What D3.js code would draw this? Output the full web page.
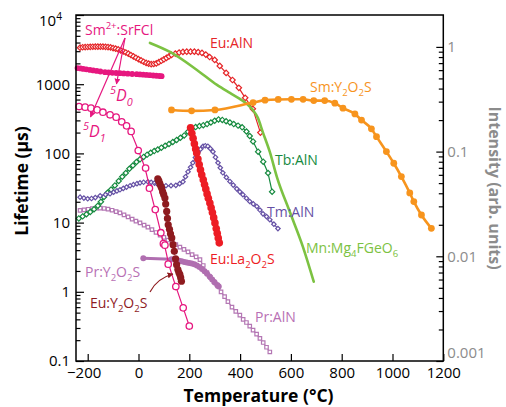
<!DOCTYPE html>
<html>
<head>
<meta charset="utf-8">
<script src="https://cdn.jsdelivr.net/npm/d3@7"></script>
<style>
  body { margin: 0; background: #fff; }
  svg { font-family: "Open Sans", sans-serif; }
</style>
</head>
<body>
<div id="chart"></div>
<script>
// ---- data (temperature in °C, lifetime in µs, intensity in arb. units) ----
var tempTicks = [-200, 0, 200, 400, 600, 800, 1000, 1200];
var lifeTicks = [0.1, 1, 10, 100, 1000, 10000];
var lifeLabels = ["0.1", "1", "10", "100", "1000", "10^4"];
var intTicks = [0.001, 0.01, 0.1, 1];
var intLabels = ["0.001", "0.01", "0.1", "1"];

// Eu:AlN
var euAlnT = [-230,-220,-210,-200,-190,-180,-170,-160,-150,-140,-130,-120,-110,-100,-90,-80,-70,-60,-50,-40,-30,-20,-10,0,10,20,30,40,50,60,70,80,90,100,110,120,130,145,160,175,190,205,220,235,250,265,280,300,320,345,370,395,420,450,480];
var euAlnV = [3370,3420,3440,3450,3470,3480,3490,3490,3490,3490,3470,3440,3400,3330,3260,3180,3080,2980,2875,2760,2640,2520,2410,2300,2205,2110,2030,1980,1945,1960,1995,2080,2180,2290,2395,2520,2650,2770,2860,2925,2950,2955,2950,2900,2830,2680,2470,2245,1840,1455,1150,885,635,440,200];

// Sm2+:SrFCl 5D0
var sm5d0T = [-240,-228,-217,-205,-191,-178,-164,-150,-132,-118,-103,-88,-73,-58,-42,-25,-7,6,19,32,45,58,70,82,91];
var sm5d0V = [1710,1690,1663,1640,1608,1580,1555,1525,1490,1475,1462,1452,1442,1430,1418,1405,1394,1385,1372,1360,1349,1336,1325,1314,1304];

// Sm2+:SrFCl 5D1
var sm5d1T = [-234,-210,-187,-163,-140,-112,-88,-66,-47,-29,-1,28,43,66,88,98,104,117,147,176,200];
var sm5d1V = [475,466,451,426,394,361,334,286,250,208,110,61.4,31.4,15.4,7.15,4.96,4.72,2.51,1.19,0.586,0.32];

// Mn:Mg4FGeO6
var mnT = [45,124,230,309,360,399,431,450,470,489,517,545,596,647,690];
var mnV = [3950,2925,1607,977,748,613,503,426,326,205,105,45.5,14.2,4.5,1.4];

// Sm:Y2O2S (intensity, right axis)
var smYT = [130,209,301,451,498,550,602,648,690,733,773,805,852,878,917,937,976,1005,1035,1068,1084,1114,1153];
var smYV = [0.25,0.245,0.25,0.294,0.31,0.315,0.316,0.316,0.307,0.307,0.29,0.26,0.229,0.2,0.165,0.139,0.1,0.0774,0.0577,0.0403,0.0333,0.0248,0.0185];

// Tb:AlN
var tbT = [-235,-220,-205,-190,-175,-160,-148,-136,-122,-108,-93,-78,-64,-50,-36,-22,-8,6,20,34,48,62,76,90,105,120,135,150,165,180,195,210,225,240,255,270,285,300,315,330,345,360,375,392,408,425,438,451,471,491,510,526];
var tbV = [11.5,12.3,13.2,14.2,15.6,17.5,20,23.5,27,30,34.5,40,46,52,60,67,75,82,89,96,102,108,114,121,129,137,146,156,168,182,205,228,240,248,256,265,280,296,310,305,292,279,265,252,238,207,178,149,106,76,52,28];

// Tm:AlN
var tmT = [-230,-215,-200,-185,-170,-151,-130,-112,-98,-85,-73,-60,-47,-33,-20,-6,6,20,37,50,63,73,90,108,128,147,162,175,185,195,205,214,224,234,244,254,263,273,283,293,303,313,322,332,346,360,373,387,399,411,425,438,452,466,478,490,504,517,533,549];
var tmV = [23.3,22.6,22.1,22.3,23,24.4,25.3,26.1,27.5,28.7,29.8,31.2,32.6,34.1,35.3,36.5,37.6,38.3,38.9,38.2,37.2,36.4,35.2,34.1,34.2,34.6,36.5,38.9,46,54.3,63,73.2,87,102,115,127,129,127,117,106,88,73.2,62,52.5,45,39.3,34.8,30.8,27.8,25.3,22.5,20.2,18.6,17.1,15.2,13.4,12.2,11,9.5,8.2];

// Pr:AlN
var prAlnT = [-230,-214,-198,-182,-166,-151,-135,-120,-104,-88,-73,-57,-41,-25,-10,6,22,37,53,69,85,100,116,132,147,163,179,195,211,227,242,255,269,283,297,312,325,339,352,368,383,399,412,425,438,451,465,478,491,504,517];
var prAlnV = [15.0,15.3,15.6,15.9,16.1,16.2,16.0,15.7,15.1,14.4,13.8,12.9,12.1,11.2,10.5,9.9,9.2,8.6,7.9,7.2,6.6,6.1,5.6,5.2,4.8,4.42,4.1,3.78,3.45,3.2,2.92,2.4,1.89,1.62,1.4,1.22,1.0,0.85,0.72,0.6,0.52,0.46,0.4,0.36,0.32,0.28,0.245,0.212,0.185,0.158,0.135];

// Pr:Y2O2S
var prYT = [19,130,140,150,160,170,180,190,200,210,220,230,240,250,260,270,280,290,300,310,316];
var prYV = [3.06,2.95,2.92,2.88,2.82,2.76,2.70,2.66,2.61,2.56,2.50,2.40,2.28,2.14,1.98,1.82,1.66,1.50,1.36,1.25,1.19];

// Eu:La2O2S
var euLaT = [205,210,215,220,225,229,234,239,244,249,255,260,265,270,275,281,286,291,296,301,306,310,314,318];
var euLaV = [234,196,165,138,116,101,83,69,58,49,41.6,35.5,30.5,26,22.5,19.2,16.4,14,11.8,9.9,8.2,7.0,6.0,5.1];

// Eu:Y2O2S
var euYT = [76,80,84,88,91,95,99,104,107,111,114,117,122,126,131,136,141,146,150,155,159,163,166,169];
var euYV = [43,40,36.5,33.5,31.5,28,25.5,22.6,18.5,14.5,11.5,9.3,8.0,6.9,6.0,4.8,3.84,3.0,2.47,2.1,1.9,1.77,1.6,1.42];

// ---- chart ----
var svgWidth = 506, svgHeight = 407;
var plotBox = { left: 76, right: 443.3, top: 15, bottom: 361 };

var svg = d3.select("#chart").append("svg")
    .attr("width", svgWidth)
    .attr("height", svgHeight);

var defs = svg.append("defs");
function arrowHead(id, color) {
    defs.append("marker")
        .attr("id", id)
        .attr("viewBox", "0 0 10 10")
        .attr("refX", 9).attr("refY", 5)
        .attr("markerWidth", 5).attr("markerHeight", 5)
        .attr("orient", "auto")
        .append("path").attr("d", "M0,0L10,5L0,10z").attr("fill", color);
}
arrowHead("arrPink", "#e6177f");
arrowHead("arrDark", "#8e1b1f");

var x = d3.scaleLinear().domain([-200, 1200]).range([87.7, 443.3]);
var yL = d3.scaleLog().domain([0.1, 1e4]).range([361, 15]);
var yR = d3.scaleLog().domain([0.001, 1]).range([361, 46.9]);

// small helper for sub/superscripts: "_2", "^{2+}"
function rich(text, str, fs) {
    var re = /([_^])(\{[^}]*\}|.)/g, parts = [], last = 0, m;
    while ((m = re.exec(str))) {
        if (m.index > last) parts.push([str.slice(last, m.index), 0]);
        parts.push([m[2].replace(/[{}]/g, ""), m[1] === "_" ? 1 : -1]);
        last = re.lastIndex;
    }
    if (last < str.length) parts.push([str.slice(last), 0]);
    var shift = 0;
    parts.forEach(function (p) {
        var target = p[1] > 0 ? fs * 0.3 : (p[1] < 0 ? -fs * 0.42 : 0);
        var t = text.append("tspan").attr("dy", target - shift).text(p[0]);
        if (p[1]) t.attr("font-size", fs * 0.68);
        shift = target;
    });
}

// axes
function minorTicks(lo, hi) {
    var out = [];
    for (var d = lo; d < hi; d *= 10) for (var k = 2; k <= 9; k++) out.push(d * k);
    return out;
}

var gx = svg.append("g").attr("transform", "translate(0," + plotBox.bottom + ")")
    .call(d3.axisBottom(x).tickValues(tempTicks).tickSize(-7).tickSizeOuter(0).tickPadding(6).tickFormat(d3.format("d")));
gx.select(".domain").remove();
gx.selectAll("text").attr("font-size", 15).attr("fill", "#000")
    .attr("font-family", "Open Sans")
    .attr("dx", function (d) { return d < 0 ? -4 : 0; });

var gyMinor = svg.append("g").attr("transform", "translate(" + plotBox.left + ",0)")
    .call(d3.axisLeft(yL).tickValues(minorTicks(0.1, 1e4)).tickSize(-4.5).tickFormat(""));
gyMinor.select(".domain").remove();

var gy = svg.append("g").attr("transform", "translate(" + plotBox.left + ",0)")
    .call(d3.axisLeft(yL).tickValues(lifeTicks).tickSize(-8).tickPadding(6)
        .tickFormat(function (d) { return lifeLabels[lifeTicks.indexOf(d)]; }));
gy.select(".domain").remove();
gy.selectAll("text").attr("font-size", 15).attr("fill", "#000").attr("font-family", "Open Sans")
    .each(function (d) {
        if (d === 1e4) {
            // the top label sits a little below its tick, as in the original
            var t = d3.select(this).text("").attr("x", -14).attr("y", 10.5).attr("dy", null);
            rich(t, "10^4", 15);
        }
    });

var grMinor = svg.append("g").attr("transform", "translate(" + plotBox.right + ",0)")
    .call(d3.axisRight(yR).tickValues(minorTicks(0.001, 1)).tickSize(-4.5).tickFormat(""));
grMinor.select(".domain").remove();

var gr = svg.append("g").attr("transform", "translate(" + plotBox.right + ",0)")
    .call(d3.axisRight(yR).tickValues(intTicks).tickSize(-7).tickPadding(4)
        .tickFormat(function (d) { return intLabels[intTicks.indexOf(d)]; }));
gr.select(".domain").remove();
gr.selectAll("text").attr("font-size", 15).attr("fill", "#8c8c8c").attr("font-family", "Open Sans")
    .attr("y", function (d) { return d === 0.001 ? -8 : 0; });

svg.selectAll(".tick line").attr("stroke", "#000").attr("stroke-width", 1.2);

// series
function plotSeries(T, V, ys, o) {
    var pts = T.map(function (t, i) { return [x(t), ys(V[i])]; });
    var g = svg.append("g");
    if (o.lineWidth) {
        g.append("path")
            .attr("d", d3.line().curve(o.curve || d3.curveLinear)(pts))
            .attr("fill", "none")
            .attr("stroke", o.color)
            .attr("stroke-width", o.lineWidth)
            .attr("stroke-linejoin", "round")
            .attr("stroke-linecap", "round");
    }
    if (o.marker === "dot" || o.marker === "ring") {
        g.selectAll("circle").data(pts).enter().append("circle")
            .attr("cx", function (d) { return d[0]; })
            .attr("cy", function (d) { return d[1]; })
            .attr("r", o.r)
            .attr("fill", o.marker === "dot" ? o.color : "#fff")
            .attr("stroke", o.marker === "dot" ? "none" : o.color)
            .attr("stroke-width", 1.3);
    } else if (o.marker === "diamond" || o.marker === "square") {
        var sym = d3.symbol().type(d3.symbolSquare).size(o.size);
        g.selectAll("path.mk").data(pts).enter().append("path")
            .attr("class", "mk")
            .attr("d", sym)
            .attr("transform", function (d) {
                return "translate(" + d[0] + "," + d[1] + ")" + (o.marker === "diamond" ? " rotate(45)" : "");
            })
            .attr("fill", "#fff")
            .attr("stroke", o.color)
            .attr("stroke-width", 1.2);
    }
    return g;
}

plotSeries(prAlnT, prAlnV, yL, { color: "#b477b4", lineWidth: 1.3, marker: "square", size: 12 });
plotSeries(prYT, prYV, yL, { color: "#b06eb0", lineWidth: 3, marker: "dot", r: 3 });
plotSeries(tbT, tbV, yL, { color: "#168a3f", lineWidth: 1.2, marker: "diamond", size: 14 });
plotSeries(tmT, tmV, yL, { color: "#6651a5", lineWidth: 1.2, marker: "diamond", size: 10 });
plotSeries(euAlnT, euAlnV, yL, { color: "#e52528", lineWidth: 1.2, marker: "diamond", size: 15 });
plotSeries(sm5d0T, sm5d0V, yL, { color: "#e6177f", marker: "dot", r: 2.9 });
plotSeries(mnT, mnV, yL, { color: "#7cc242", lineWidth: 2.6, curve: d3.curveMonotoneX });
plotSeries(smYT, smYV, yR, { color: "#f7941d", lineWidth: 2.6, marker: "dot", r: 3.4, curve: d3.curveMonotoneX });
plotSeries(euLaT, euLaV, yL, { color: "#ed1c24", marker: "dot", r: 3.8 });
plotSeries(euYT, euYV, yL, { color: "#8e1b1f", marker: "dot", r: 3.6 });
plotSeries(sm5d1T, sm5d1V, yL, { color: "#e6177f", lineWidth: 1.2, marker: "ring", r: 3.2, curve: d3.curveBasis });

// frame
svg.append("rect")
    .attr("x", plotBox.left).attr("y", plotBox.top)
    .attr("width", plotBox.right - plotBox.left).attr("height", plotBox.bottom - plotBox.top)
    .attr("fill", "none").attr("stroke", "#000").attr("stroke-width", 1.5);

// annotations
var labels = [
    ["Sm^{2+}:SrFCl", 85, 35, "#e6177f"],
    ["Eu:AlN", 210, 48, "#e52528"],
    ["Sm:Y_2O_2S", 310, 92, "#f7941d"],
    ["Tb:AlN", 275, 165, "#168a3f"],
    ["Tm:AlN", 267, 216.5, "#6651a5"],
    ["Mn:Mg_4FGeO_6", 306, 253, "#7cc242"],
    ["Eu:La_2O_2S", 210, 264, "#ed1c24"],
    ["Pr:AlN", 255, 322, "#b870b4"],
    ["Pr:Y_2O_2S", 85, 276.5, "#b870b4"],
    ["Eu:Y_2O_2S", 90, 308, "#8e1b1f"]
];
labels.forEach(function (l) {
    var t = svg.append("text").attr("x", l[1]).attr("y", l[2])
        .attr("font-size", 14).attr("fill", l[3]);
    rich(t, l[0], 14);
});

[["^5D_0", 110, 101], ["^5D_1", 83, 137]].forEach(function (l) {
    var t = svg.append("text").attr("x", l[1]).attr("y", l[2])
        .attr("font-size", 16).attr("font-style", "italic").attr("fill", "#e6177f");
    rich(t, l[0], 16);
});

svg.append("path").attr("d", "M125,38 L116.5,84")
    .attr("stroke", "#e6177f").attr("stroke-width", 1.2).attr("fill", "none")
    .attr("marker-end", "url(#arrPink)");
svg.append("path").attr("d", "M125,38 L90.5,117")
    .attr("stroke", "#e6177f").attr("stroke-width", 1.2).attr("fill", "none")
    .attr("marker-end", "url(#arrPink)");
svg.append("path").attr("d", "M150,292 C155,282 162,277 173,274")
    .attr("stroke", "#8e1b1f").attr("stroke-width", 1.2).attr("fill", "none")
    .attr("marker-end", "url(#arrDark)");

// axis titles
svg.append("text")
    .attr("transform", "translate(28,181) rotate(-90)")
    .attr("text-anchor", "middle")
    .attr("font-size", 17.5).attr("font-weight", "bold")
    .text("Lifetime (µs)");

svg.append("text")
    .attr("x", 258.5).attr("y", 401.5)
    .attr("text-anchor", "middle")
    .attr("font-size", 17.5).attr("font-weight", "bold")
    .text("Temperature (°C)");

svg.append("text")
    .attr("transform", "translate(488.5,188) rotate(90)")
    .attr("text-anchor", "middle")
    .attr("font-size", 16).attr("font-weight", "bold").attr("fill", "#8c8c8c")
    .text("Intensity (arb. units)");
</script>
</body>
</html>
